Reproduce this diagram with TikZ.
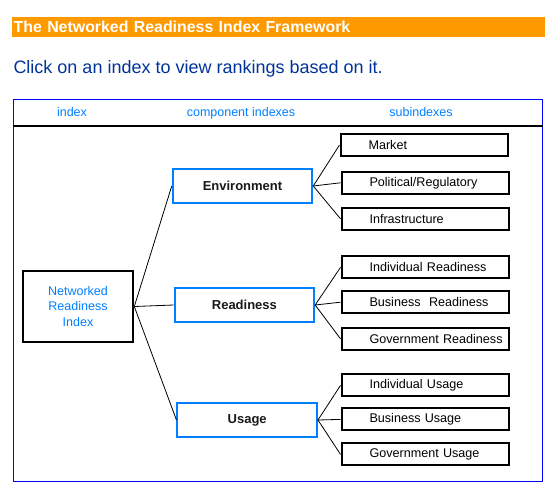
\documentclass[tikz,border=0pt]{standalone}
\usepackage{fontspec}
\setmainfont{Liberation Sans}
\usepackage{xcolor}
\usepackage{tikz}
\usetikzlibrary{shapes,positioning,calc}
\definecolor{barorange}{RGB}{255,153,0}
\definecolor{hintblue}{RGB}{0,51,153}
\definecolor{linkblue}{RGB}{0,128,255}
\definecolor{frameblue}{RGB}{0,0,255}

\begin{document}
\begin{tikzpicture}[x=1pt, y=-1pt,
  compbox/.style={draw=linkblue, line width=2pt, rectangle, minimum width=139.5pt, minimum height=34pt, font=\fontsize{13}{15}\selectfont\bfseries, text=black!90},
  subbox/.style={draw, line width=2pt, rectangle, text width=167pt, inner xsep=0pt, minimum height=22pt, align=left, font=\fontsize{12.6}{15}\selectfont, execute at begin node={\hspace*{28pt}}},
  head/.style={anchor=base, text=linkblue, font=\fontsize{12.5}{15}\selectfont},
  link/.style={line width=0.8pt}]
\useasboundingbox[fill=white] (0,0) rectangle (556,494);
\node[fill=barorange, rectangle, anchor=north west, text width=530pt, inner xsep=1.5pt, inner ysep=0pt, minimum height=19.4pt, align=left, text=white, font=\fontsize{15.9}{17}\selectfont\bfseries] (title) at (12,17.3) {The Networked Readiness Index Framework};
\node[anchor=base west, inner sep=0pt, text=hintblue, font=\fontsize{18}{22}\selectfont] (hint) at (13.3,73.3) {Click on an index to view rankings based on it.};
\node[draw=frameblue, line width=1pt, rectangle, anchor=north west, minimum width=528.4pt, minimum height=382pt] (frame) at (13.3,99.3) {};
\draw[line width=2pt] ($(frame.north west)+(0,26.4)$) -- ($(frame.north east)+(0,26.4)$);
\node[head] (hindex) at (72,117) {index};
\node[head] (hcomp) at (241,117) {component indexes};
\node[head] (hsub) at (421,117) {subindexes};
\node[draw, line width=2pt, rectangle, minimum width=110.6pt, minimum height=71.6pt, align=center, text=linkblue, font=\fontsize{12.5}{15.5}\selectfont] (nri) at (78,306.5) {Networked\\Readiness\\Index};
\node[compbox] (env) at (242.5,186) {Environment};
\node[compbox] (ready) at (244.4,305) {Readiness};
\node[compbox] (usage) at (247.2,420) {Usage};
\node[subbox] (market) at (424,145) {Market};
\node[subbox] (political) at (425,182.8) {Political/Regulatory};
\node[subbox] (infra) at (425,218.8) {Infrastructure};
\node[subbox] (indread) at (425,267.4) {Individual Readiness};
\node[subbox] (busread) at (425,302.2) {Business\ \ Readiness};
\node[subbox] (govread) at (425,338.8) {Government Readiness};
\node[subbox] (induse) at (425,385.4) {Individual Usage};
\node[subbox] (bususe) at (425,419.4) {Business Usage};
\node[subbox] (govuse) at (425,454.4) {Government Usage};
\foreach \c in {env,ready,usage}
  \draw[link] (nri.east) -- (\c.west);
\foreach \s in {market,political,infra}
  \draw[link] (env.east) -- (\s.west);
\foreach \s in {indread,busread,govread}
  \draw[link] (ready.east) -- (\s.west);
\foreach \s in {induse,bususe,govuse}
  \draw[link] (usage.east) -- (\s.west);
\end{tikzpicture}
\end{document}
